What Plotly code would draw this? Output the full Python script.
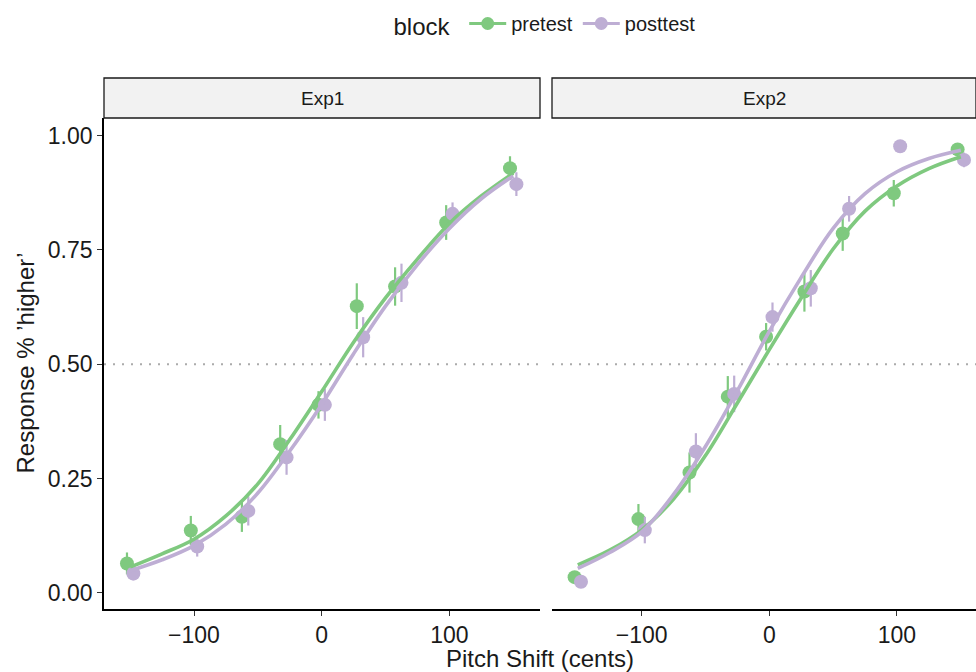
import plotly.graph_objects as go

# ---------------- data ----------------
levels = [-150, -100, -60, -30, 0, 30, 60, 100, 150]

exp1_pre = [0.064, 0.136, 0.166, 0.325, 0.411, 0.627, 0.670, 0.810, 0.929]
exp1_pre_se = [0.024, 0.032, 0.033, 0.042, 0.030, 0.050, 0.042, 0.038, 0.026]
exp1_post = [0.042, 0.101, 0.179, 0.296, 0.411, 0.559, 0.678, 0.829, 0.894]
exp1_post_se = [0.015, 0.022, 0.032, 0.038, 0.035, 0.044, 0.042, 0.025, 0.026]

exp2_pre = [0.034, 0.161, 0.263, 0.429, 0.560, 0.659, 0.786, 0.874, 0.970]
exp2_pre_se = [0.010, 0.033, 0.044, 0.045, 0.030, 0.044, 0.038, 0.029, 0.012]
exp2_post = [0.024, 0.137, 0.309, 0.435, 0.603, 0.666, 0.840, 0.977, 0.947]
exp2_post_se = [0.008, 0.029, 0.040, 0.040, 0.032, 0.040, 0.028, 0.006, 0.016]

# fitted psychometric curves
curve_x = [-150, -125, -100, -75, -50, -25, 0, 25, 50, 75, 100, 125, 150]
exp1_pre_fit = [0.056, 0.085, 0.117, 0.168, 0.238, 0.335, 0.440, 0.548, 0.645, 0.730, 0.808, 0.868, 0.918]
exp1_post_fit = [0.048, 0.072, 0.103, 0.150, 0.218, 0.310, 0.412, 0.523, 0.627, 0.718, 0.797, 0.862, 0.912]
exp2_pre_fit = [0.061, 0.093, 0.137, 0.205, 0.300, 0.415, 0.532, 0.645, 0.752, 0.835, 0.890, 0.928, 0.954]
exp2_post_fit = [0.053, 0.088, 0.133, 0.215, 0.320, 0.442, 0.572, 0.690, 0.797, 0.873, 0.921, 0.950, 0.968]

panels = ["Exp1", "Exp2"]
blocks = ["pretest", "posttest"]

# ---------------- style ----------------
COL = {"pretest": "#7FC97F", "posttest": "#BEAED4"}
DODGE = {"pretest": -2.5, "posttest": 2.5}
FONT = "Liberation Sans, Arial, Helvetica, sans-serif"
W, H = 976, 672
ML, MR, MT, MB = 104, 0, 118, 63
PW = W - ML - MR
PH = H - MT - MB
STRIP_H = 40 / PH

data = {
    ("Exp1", "pretest"): (exp1_pre, exp1_pre_se, exp1_pre_fit),
    ("Exp1", "posttest"): (exp1_post, exp1_post_se, exp1_post_fit),
    ("Exp2", "pretest"): (exp2_pre, exp2_pre_se, exp2_pre_fit),
    ("Exp2", "posttest"): (exp2_post, exp2_post_se, exp2_post_fit),
}

fig = go.Figure()
axes = {"Exp1": ("x", "y"), "Exp2": ("x2", "y2")}

for p in panels:
    xa, ya = axes[p]
    for b in blocks:
        vals, se, fit = data[(p, b)]
        fig.add_trace(go.Scatter(
            x=[v + DODGE[b] for v in levels], y=vals, mode="markers",
            marker=dict(color=COL[b], size=14),
            error_y=dict(type="data", array=se, visible=True, color=COL[b], thickness=2.2, width=0),
            xaxis=xa, yaxis=ya, showlegend=False, hoverinfo="skip"))
    for b in blocks:
        vals, se, fit = data[(p, b)]
        fig.add_trace(go.Scatter(
            x=curve_x, y=fit, mode="lines", line=dict(color=COL[b], width=3.6, shape="spline", smoothing=1.0),
            xaxis=xa, yaxis=ya, showlegend=False, hoverinfo="skip"))

# legend entries
for b in blocks:
    fig.add_trace(go.Scatter(x=[None], y=[None], mode="lines+markers", name=b,
                             marker=dict(color=COL[b], size=13),
                             line=dict(color=COL[b], width=3),
                             xaxis="x", yaxis="y", showlegend=True))

xrange1 = [-170.5, 171.0]
xrange2 = [-170.2, 161.9]
yrange = [-0.0357, 1.0387]

tickfont = dict(family=FONT, size=23, color="#1a1a1a")
common_x = dict(tickvals=[-100, 0, 100], ticktext=["\u2212100", "0", "100"], showgrid=False, zeroline=False,
                showline=True, linecolor="black", linewidth=1.6, ticks="outside", ticklen=5,
                tickwidth=1.3, tickcolor="#333", tickfont=tickfont)
d1 = [0, (540 - ML) / PW]
d2 = [(552 - ML) / PW, 1]
fig.update_layout(
    width=W, height=H,
    margin=dict(l=ML, r=MR, t=MT, b=MB),
    paper_bgcolor="white", plot_bgcolor="white",
    font=dict(family=FONT, color="#1a1a1a"),
    xaxis=dict(domain=d1, range=xrange1, **common_x),
    xaxis2=dict(domain=d2, range=xrange2, anchor="y2", **common_x),
    yaxis=dict(range=yrange, tickvals=[0, 0.25, 0.5, 0.75, 1.0],
               ticktext=["0.00", "0.25", "0.50", "0.75", "1.00"],
               showgrid=False, zeroline=False, showline=True, linecolor="black", linewidth=1.6,
               ticks="outside", ticklen=5, tickwidth=1.3, tickcolor="#333", tickfont=tickfont),
    yaxis2=dict(range=yrange, anchor="x2", matches="y", showgrid=False, zeroline=False,
                showline=False, showticklabels=False, ticks=""),
    legend=dict(orientation="h", xref="container", yref="container", x=546 / W, xanchor="center",
                y=1 - 25 / H, yanchor="middle",
                title=dict(text="block ", font=dict(family=FONT, size=24, color="#1a1a1a")),
                font=dict(family=FONT, size=20, color="#1a1a1a"),
                itemwidth=37, bgcolor="rgba(0,0,0,0)"),
    showlegend=True,
)

shapes = []
annotations = []
for p in panels:
    xa, ya = axes[p]
    shapes.append(dict(type="line", xref=f"{xa} domain", yref=ya, x0=0, x1=1, y0=0.5, y1=0.5,
                       line=dict(color="#ababab", width=2, dash="2px,7px"), layer="below"))
    shapes.append(dict(type="rect", xref=f"{xa} domain", yref="paper", x0=0, x1=1,
                       y0=1, y1=1 + STRIP_H, fillcolor="#F2F2F2",
                       line=dict(color="#1a1a1a", width=1.3)))
    annotations.append(dict(text=p, xref=f"{xa} domain", yref="paper", x=0.5, y=1 + STRIP_H / 2,
                            showarrow=False, xanchor="center", yanchor="middle",
                            font=dict(family=FONT, size=19, color="#1a1a1a")))

annotations.append(dict(text="Pitch Shift (cents)", xref="paper", yref="paper", x=0.5,
                        y=(0 - (658 - (MT + PH))) / PH, showarrow=False, xanchor="center", yanchor="middle",
                        font=dict(family=FONT, size=24, color="#1a1a1a")))
annotations.append(dict(text="Response % \u2019higher\u2019", xref="paper", yref="paper",
                        x=(25 - ML) / PW, y=0.5, textangle=-90, showarrow=False,
                        xanchor="center", yanchor="middle",
                        font=dict(family=FONT, size=24, color="#1a1a1a")))
fig.update_layout(shapes=shapes, annotations=annotations)

fig.write_html("out.html")
